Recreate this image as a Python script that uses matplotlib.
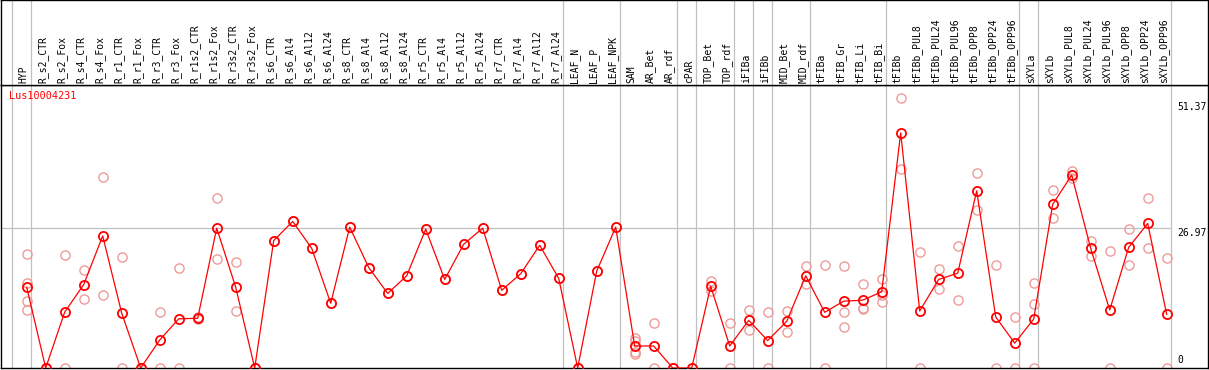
import matplotlib
matplotlib.use("Agg")
import matplotlib.pyplot as plt
import matplotlib.transforms as mtransforms

title = "Lus10004231"

labels = ["HYP", "R_s2_CTR", "R_s2_Fox", "R_s4_CTR", "R_s4_Fox", "R_r1_CTR", "R_r1_Fox",
          "R_r3_CTR", "R_r3_Fox", "R_r1s2_CTR", "R_r1s2_Fox", "R_r3s2_CTR", "R_r3s2_Fox",
          "R_s6_CTR", "R_s6_Al4", "R_s6_Al12", "R_s6_Al24", "R_s8_CTR", "R_s8_Al4",
          "R_s8_Al12", "R_s8_Al24", "R_r5_CTR", "R_r5_Al4", "R_r5_Al12", "R_r5_Al24",
          "R_r7_CTR", "R_r7_Al4", "R_r7_Al12", "R_r7_Al24", "LEAF_N", "LEAF_P", "LEAF_NPK",
          "SAM", "AR_Bet", "AR_rdf", "cPAR", "TOP_Bet", "TOP_rdf", "iFIBa", "iFIBb",
          "MID_Bet", "MID_rdf", "tFIBa", "tFIB_Gr", "tFIB_Li", "tFIB_Bi", "tFIBb",
          "tFIBb_PUL8", "tFIBb_PUL24", "tFIBb_PUL96", "tFIBb_OPP8", "tFIBb_OPP24",
          "tFIBb_OPP96", "sXYLa", "sXYLb", "sXYLb_PUL8", "sXYLb_PUL24", "sXYLb_PUL96",
          "sXYLb_OPP8", "sXYLb_OPP24", "sXYLb_OPP96"]

means = [15.6, 0, 10.8, 16.1, 25.5, 10.6, 0, 5.4, 9.5, 9.6, 27.0, 15.6, 0,
         24.6, 28.3, 23.1, 12.5, 27.2, 19.4, 14.4, 17.8, 26.8, 17.1, 23.9, 27.0,
         15.0, 18.2, 23.7, 17.3,
         0, 18.7, 27.2,
         4.25, 4.25, 0,
         0,
         15.8, 4.25,
         9.2, 5.3,
         9.0, 17.8,
         10.75, 12.9, 13.1, 14.7,
         45.4, 11.0, 17.1, 18.3, 34.2, 9.85, 4.8,
         9.45,
         31.6, 37.25, 23.1, 11.2, 23.3, 27.9, 10.35]

replicates = [
    [22.0, 16.4, 12.9, 11.2], [0, 0], [21.8, 0], [18.9, 13.3], [36.9, 14.0],
    [21.4, 0], [0, 0], [10.9, 0], [19.25, 0], [9.8, 9.5], [32.8, 21.0],
    [20.5, 11.0], [0, 0],
    [24.6], [28.3], [23.1], [12.5], [27.2], [19.4], [14.4], [17.8], [26.8], [17.1],
    [23.9], [27.0], [15.0], [18.2], [23.7], [17.3],
    [0], [18.7], [27.2],
    [5.85, 5.2, 3.15, 2.65], [8.6, 0], [0, 0],
    [0],
    [16.7, 14.9], [8.6, 0],
    [11.2, 7.3], [10.8, 0],
    [11.1, 6.9], [19.7, 16.2],
    [19.8, 0], [19.7, 10.9, 7.9], [16.2, 11.6, 11.3], [17.1, 14.1, 12.7],
    [52.1, 38.5], [22.3, 0], [19.05, 15.25], [23.55, 13.1], [37.6, 30.5], [19.9, 0], [9.85, 0],
    [16.4, 12.3, 0],
    [34.4, 28.95], [37.95, 36.6], [24.5, 21.55], [22.5, 0], [26.8, 19.8], [32.75, 23.1], [21.2, 0],
]

# group separators: placed after these category indices
separators_after = [-1, 0, 28, 31, 34, 35, 37, 38, 39, 41, 45, 52, 53, 60]
ytick_values = [51.37, 26.97, 0]

W, H = 1209, 370
fig = plt.figure(figsize=(W / 100, H / 100), dpi=100)

# pixel geometry
x0_px, step_px = 26.7, 19.0
left_px, right_px = 1, 1208
top_px, bottom_px, header_px = 0, 368, 85
xlim = ((left_px - x0_px) / step_px, (right_px - x0_px) / step_px)
ppu = (368 - 228.3) / 26.97
ymax = (bottom_px - header_px) / ppu

ax = fig.add_axes([left_px / W, (H - bottom_px) / H, (right_px - left_px) / W,
                   (bottom_px - header_px) / H])
hax = fig.add_axes([left_px / W, (H - header_px) / H, (right_px - left_px) / W,
                    (header_px - top_px) / H])

for a in (ax, hax):
    a.set_xlim(*xlim)
    a.set_xticks([])
    a.set_yticks([])
    for s in a.spines.values():
        s.set_color("black")
        s.set_linewidth(1.0)
ax.set_ylim(0, ymax)
hax.set_ylim(0, 1)

mono = "DejaVu Sans Mono"
gray = "#c0c0c0"
sep_off = 0.21
for i in separators_after:
    for a in (ax, hax):
        a.axvline(i + sep_off, color=gray, lw=0.9, zorder=1)
ax.hlines(26.97, xlim[0], separators_after[-1] + sep_off, color=gray, lw=0.9, zorder=1)

# replicates
rx, ry = [], []
for i, reps in enumerate(replicates):
    for v in reps:
        rx.append(i)
        ry.append(v)
ax.plot(rx, ry, linestyle="none", marker="o", markersize=6.6, markerfacecolor="none",
        markeredgecolor="#ef9a9a", markeredgewidth=1.0, zorder=2)

xs = list(range(len(labels)))
ax.plot(xs, means, color="#ff0000", lw=0.9, marker="o", markersize=6.6,
        markerfacecolor="none", markeredgecolor="#ff0000", markeredgewidth=1.3, zorder=3)

# y labels on the right
trans = ax.transData
lab_x = (1177 - x0_px) / step_px
for v in ytick_values:
    if v == 0:
        ax.text(lab_x, 0.6, "0", family=mono, fontsize=7, ha="left", va="bottom", color="black")
    else:
        ax.text(lab_x, v, f"{v:.2f}", family=mono, fontsize=7, ha="left", va="top",
                color="black")

# header labels
for i, lab in enumerate(labels):
    hax.text(i - 0.15, 2.0 / header_px, lab, rotation=90, family=mono, fontsize=7,
             ha="center", va="bottom", color="black")

fig.text(8.5 / W, 1 - 91 / H, title, family=mono, fontsize=7.3, color="#ff0000",
         ha="left", va="top")

fig.savefig("out.png", dpi=100)
